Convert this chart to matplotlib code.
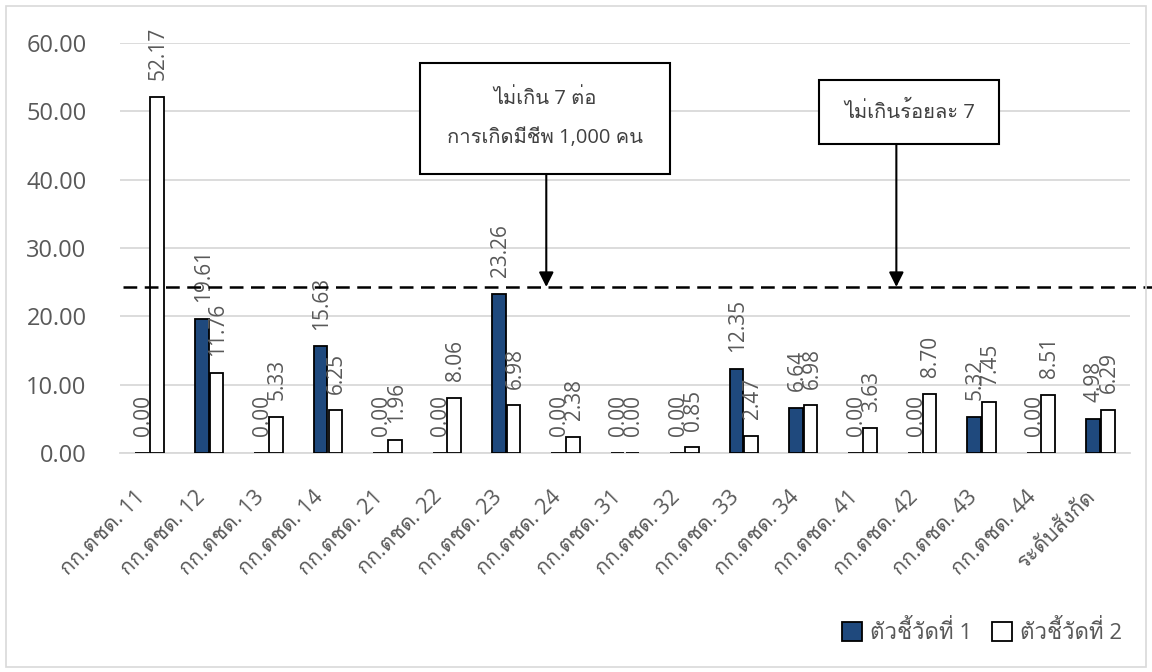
import matplotlib
matplotlib.use("Agg")
import matplotlib.pyplot as plt
import matplotlib.patches as mpatches
import numpy as np

plt.rcParams['font.family'] = ['Open Sans', 'Loma', 'IBM Plex Sans Thai Looped', 'DejaVu Sans']

categories = ["กก.ตชด. 11", "กก.ตชด. 12", "กก.ตชด. 13", "กก.ตชด. 14", "กก.ตชด. 21",
              "กก.ตชด. 22", "กก.ตชด. 23", "กก.ตชด. 24", "กก.ตชด. 31", "กก.ตชด. 32",
              "กก.ตชด. 33", "กก.ตชด. 34", "กก.ตชด. 41", "กก.ตชด. 42", "กก.ตชด. 43",
              "กก.ตชด. 44", "ระดับสังกัด"]
series1 = [0.00, 19.61, 0.00, 15.63, 0.00, 0.00, 23.26, 0.00, 0.00, 0.00,
           12.35, 6.64, 0.00, 0.00, 5.32, 0.00, 4.98]
series2 = [52.17, 11.76, 5.33, 6.25, 1.96, 8.06, 6.98, 2.38, 0.00, 0.85,
           2.47, 6.98, 3.63, 8.70, 7.45, 8.51, 6.29]
series_names = ["ตัวชี้วัดที่ 1", "ตัวชี้วัดที่ 2"]
target = 24.3
yticks = [0, 10, 20, 30, 40, 50, 60]
note1 = "ไม่เกิน 7 ต่อ\nการเกิดมีชีพ 1,000 คน"
note2 = "ไม่เกินร้อยละ 7"

TXT = "#595959"
DARK = "#1f497d"

fig = plt.figure(figsize=(11.52, 6.72), dpi=100)
ax = fig.add_axes([120/1152, 1-453/672, 1010/1152, 410/672])

x = np.arange(len(categories))
w = 0.23
off = 0.125
b1 = ax.bar(x - off, series1, w, color=DARK, edgecolor="black", linewidth=1.3, zorder=3, label=series_names[0])
b2 = ax.bar(x + off, series2, w, color="white", edgecolor="black", linewidth=1.3, zorder=3, label=series_names[1])

for bars, vals in ((b1, series1), (b2, series2)):
    for r, v in zip(bars, vals):
        ax.annotate(f"{v:.2f}", (r.get_x() + r.get_width()/2, v), xytext=(1, 12),
                    textcoords="offset points", rotation=90, ha="center", va="bottom",
                    fontsize=15, color=TXT, zorder=4, annotation_clip=False)

ax.set_xlim(-0.5, len(categories) - 0.5)
ax.set_ylim(0, 60)
ax.set_yticks(yticks)
ax.set_yticklabels([f"{t:.2f}" for t in yticks], fontsize=17, color=TXT)
ax.set_xticks(x)
ax.set_xticklabels(categories, rotation=45, ha="right", va="top", fontsize=15.5, color=TXT)
ax.tick_params(axis="both", length=0)
ax.tick_params(axis="x", pad=24)
ax.tick_params(axis="y", pad=24)
ax.grid(axis="y", color="#d9d9d9", linewidth=1.3, zorder=0)
for s in ["top", "right", "left"]:
    ax.spines[s].set_visible(False)
ax.spines["bottom"].set_color("#d9d9d9")
ax.spines["bottom"].set_linewidth(1.3)

# target line
ax.plot([-0.45, 17.68], [target, target], ls=(0, (5.5, 3)), color="black", lw=1.8,
        clip_on=False, zorder=5)

# callout boxes
def xd(px):
    return (px - 149.5) / 59.4
def yd(py):
    return (453 - py) / (410/60)

box1 = (xd(420), yd(174), xd(670) - xd(420), yd(63) - yd(174))
box2 = (xd(819), yd(144), xd(999) - xd(819), yd(80) - yd(144))
for bx in (box1, box2):
    ax.add_patch(mpatches.Rectangle((bx[0], bx[1]), bx[2], bx[3], facecolor="white",
                                    edgecolor="black", lw=1.5, zorder=6, clip_on=False))
ax.text(box1[0] + box1[2]/2, box1[1] + box1[3]/2, note1, ha="center", va="center",
        fontsize=14.5, color="#404040", zorder=7, linespacing=2.3)
ax.text(box2[0] + box2[2]/2, box2[1] + box2[3]/2, note2, ha="center", va="center",
        fontsize=14.5, color="#404040", zorder=7)
for ax_x, top in ((xd(546), box1[1]), (xd(896), box2[1])):
    ax.annotate("", xy=(ax_x, target), xytext=(ax_x, top),
                arrowprops=dict(arrowstyle="-|>", color="black", lw=1.5,
                                mutation_scale=22, shrinkA=0, shrinkB=0), zorder=6)

leg = fig.legend(handles=[b1, b2], labels=series_names, loc="lower right",
                 bbox_to_anchor=(1142/1152, 1-664/672), ncol=2, frameon=False,
                 fontsize=16, handlelength=0.9, handleheight=0.9, handletextpad=0.35,
                 columnspacing=0.9, labelcolor=TXT)

fig.patches.append(mpatches.Rectangle((6/1152, 5/672), 1140/1152, 661/672,
                                      transform=fig.transFigure, fill=False,
                                      edgecolor="#d9d9d9", lw=1.2))
fig.savefig("out.png", dpi=100)
